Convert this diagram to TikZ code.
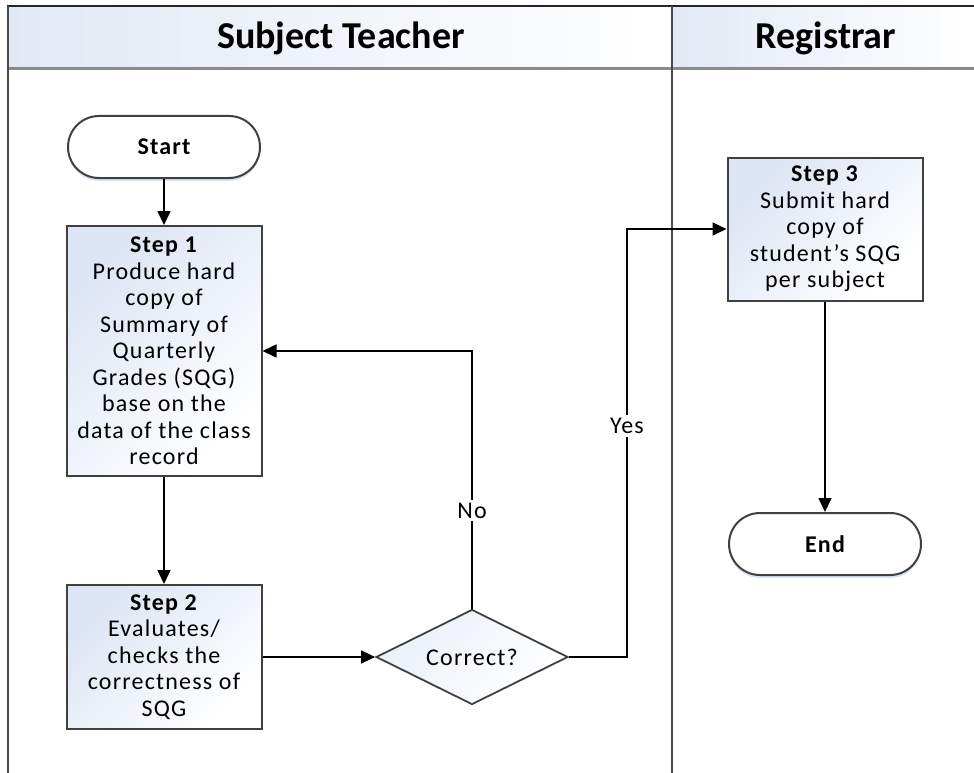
\documentclass[tikz,border=0pt]{standalone}
\usepackage{fontspec}
\setmainfont{Carlito}
\newfontfamily\bodyfont[LetterSpace=5]{Carlito}
\usetikzlibrary{shapes.geometric,arrows.meta,shadows}
\definecolor{lanegray}{HTML}{4A4A4A}
\definecolor{headline}{HTML}{8A8A8A}
\definecolor{boxedge}{HTML}{404040}
\definecolor{headblue}{HTML}{E2E9F5}
\definecolor{boxblue}{HTML}{DCE5F4}
\definecolor{shadowblue}{HTML}{BFD3EE}

\begin{document}
\begin{tikzpicture}[x=1pt,y=-1pt,
  lane/.style={draw=lanegray,line width=2.4pt},
  body/.style={font=\bodyfont\fontsize{24}{26.5}\selectfont},
  stepbox/.style={body,draw=boxedge,line width=2pt,align=center,
    minimum width=195pt,inner sep=1pt,
    top color=boxblue,bottom color=white,shading angle=45},
  terminal/.style={font=\bodyfont\bfseries\fontsize{24}{26.5}\selectfont,
    draw=boxedge,line width=2pt,fill=white,rounded corners=31pt,
    minimum width=192pt,minimum height=62pt,
    drop shadow={shadow xshift=0pt,shadow yshift=-3pt,fill=shadowblue,opacity=0.6}},
  decision/.style={body,diamond,aspect=2,draw=boxedge,line width=1.8pt,
    minimum width=192pt,minimum height=95pt,inner sep=0pt,
    top color=boxblue!60,bottom color=white,shading angle=45},
  conn/.style={line width=1.6pt,-{Triangle[length=14pt,width=13pt]}},
  lbl/.style={body,fill=white,inner sep=3pt},
  head/.style={font=\bfseries\fontsize{38}{42}\selectfont}]

\useasboundingbox (0,0) rectangle (974,773);

% swimlane header cells
\fill[left color=headblue,right color=white] (8,6) rectangle (672,69);
\fill[left color=headblue,right color=white] (672,6) rectangle (974,69);
\node[head] (lane1) at (341,38) {Subject Teacher};
\node[head] (lane2) at (826,38) {Registrar};

% lane borders
\draw[line width=2.4pt,draw=black!85] (7,6) -- (974,6);
\draw[line width=3pt,draw=headline] (8,69) -- (974,69);
\draw[lane] (8,6) -- (8,773);
\draw[lane] (672,6) -- (672,773);

% flow nodes
\node[terminal] (start) at (164,147) {Start};
\node[stepbox,minimum height=250pt] (s1) at (164,351)
  {\textbf{Step 1}\\Produce hard\\copy of\\Summary of\\Quarterly\\Grades (SQG)\\base on the\\data of the class\\record};
\node[stepbox,minimum height=144pt] (s2) at (164,657)
  {\textbf{Step 2}\\Evaluates/\\checks the\\correctness of\\SQG};
\node[decision] (dec) at (472,657) {Correct?};
\node[stepbox,minimum height=143pt] (s3) at (825,229)
  {\textbf{Step 3}\\Submit hard\\copy of\\student’s SQG\\per subject};
\node[terminal] (end) at (825,544) {End};

\coordinate (yesx) at (627,657);

% connectors
\draw[conn] (start) -- (s1);
\draw[conn] (s1) -- (s2);
\draw[conn] (s2) -- (dec);
\draw[conn] (dec.north) |- node[lbl,pos=0.19] (no) {No} (s1.east);
\draw[conn] (dec.east) -- (yesx) |- node[lbl,pos=0.27] (yes) {Yes} (s3.west);
\draw[conn] (s3) -- (end);
\end{tikzpicture}
\end{document}
